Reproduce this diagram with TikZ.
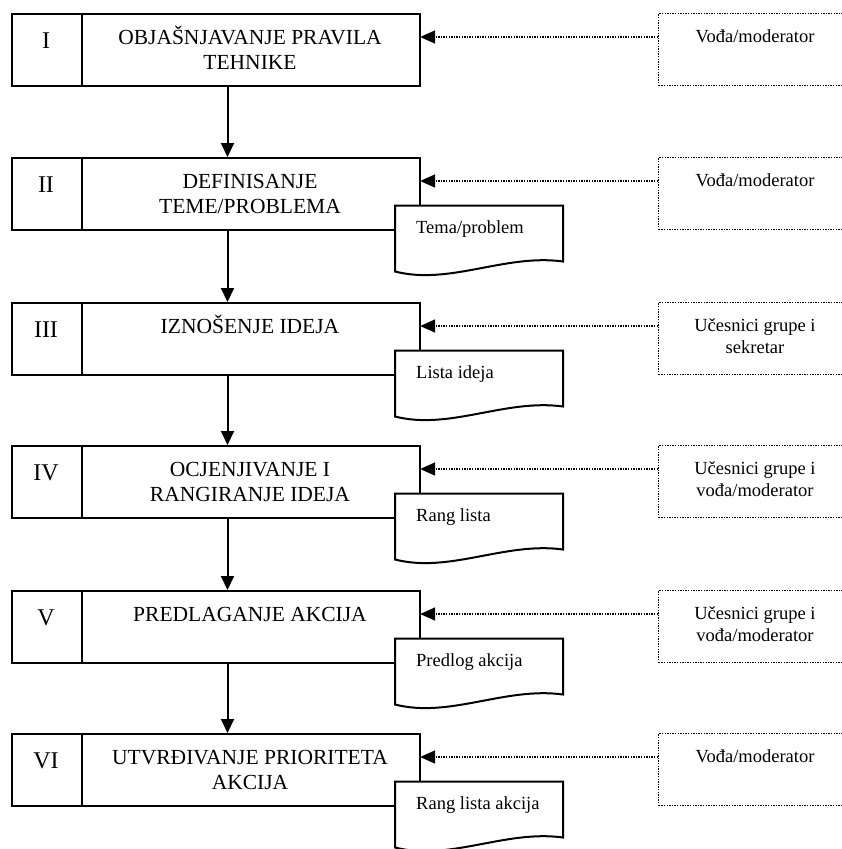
\documentclass[tikz,border=0pt]{standalone}
\usepackage{fontspec}
\setmainfont{Liberation Serif}
\usetikzlibrary{arrows.meta}
\newcommand{\mainstrut}{\rule{0pt}{20pt}}
\newcommand{\rolestrut}{\rule{0pt}{16pt}}
\tikzset{
  stepbox/.style={draw, line width=2.2pt, fill=white, inner sep=0pt, anchor=north west, minimum height=72pt},
  numcell/.style={stepbox, minimum width=69.5pt},
  maincell/.style={stepbox, minimum width=338.5pt},
  rolebox/.style={draw, line width=1.4pt, dash pattern=on 1.4pt off 1.2pt, inner sep=0pt, anchor=north west, minimum width=212pt, minimum height=72pt},
  numtext/.style={font=\fontsize{24}{28}\selectfont, anchor=base, inner sep=0pt},
  maintext/.style={font=\fontsize{21.5}{25}\selectfont, align=center, anchor=north, inner sep=0pt},
  roletext/.style={font=\fontsize{18.5}{22}\selectfont, align=center, anchor=north, inner sep=0pt},
  doctext/.style={font=\fontsize{18.5}{22}\selectfont, anchor=base west, inner sep=0pt},
  docshape/.style={draw, line width=2pt, fill=white, line join=miter},
  rolearrow/.style={line width=1.4pt, dash pattern=on 1.4pt off 1.2pt, -{Triangle[length=15pt,width=13pt]}},
  flowarrow/.style={line width=2pt, -{Triangle[length=14pt,width=13pt]}}
}
\newcommand{\stage}[5]{%
  \node[numcell] (n#1) at (11,#2) {};
  \node[maincell] (m#1) at (80.5,#2) {};
  \node[numtext] (nt#1) at (46,#2+35) {#3};
  \node[maintext] (mt#1) at (250,#2+11) {\mainstrut #4};
  \node[rolebox] (r#1) at (658,#2) {};
  \node[roletext] (rt#1) at (755,#2+13) {\rolestrut #5};
  \coordinate (a#1) at (420.1,#2+24);
  \draw[rolearrow] (r#1.west |- a#1) -- (a#1);
}
\newcommand{\docbox}[3]{%
  \draw[docshape] (395,#2+48.5) -- (563,#2+48.5) -- (563,#2+104.5)
    .. controls (505,#2+96.5) and (450,#2+128.5) .. (395,#2+114.5) -- cycle;
  \node[doctext] (dt#1) at (416,#2+76.5) {#3};
}
\begin{document}
\begin{tikzpicture}[x=1pt,y=-1pt]
  \useasboundingbox (0,0) rectangle (842,849);
  \clip (0,0) rectangle (842,849);
  \stage{1}{13}{I}{OBJAŠNJAVANJE PRAVILA\\TEHNIKE}{Vođa/moderator}
  \stage{2}{157}{II}{DEFINISANJE\\TEME/PROBLEMA}{Vođa/moderator}
  \stage{3}{302}{III}{IZNOŠENJE IDEJA}{Učesnici grupe i\\sekretar}
  \stage{4}{445}{IV}{OCJENJIVANJE I\\RANGIRANJE IDEJA}{Učesnici grupe i\\vođa/moderator}
  \stage{5}{590}{V}{PREDLAGANJE AKCIJA}{Učesnici grupe i\\vođa/moderator}
  \stage{6}{733}{VI}{UTVRĐIVANJE PRIORITETA\\AKCIJA}{Vođa/moderator}
  \docbox{2}{157}{Tema/problem}
  \docbox{3}{302}{Lista ideja}
  \docbox{4}{445}{Rang lista}
  \docbox{5}{590}{Predlog akcija}
  \docbox{6}{733}{Rang lista akcija}
  \draw[flowarrow] (227.5,0 |- m1.south) -- (227.5,0 |- m2.north);
  \draw[flowarrow] (227.5,0 |- m2.south) -- (227.5,0 |- m3.north);
  \draw[flowarrow] (227.5,0 |- m3.south) -- (227.5,0 |- m4.north);
  \draw[flowarrow] (227.5,0 |- m4.south) -- (227.5,0 |- m5.north);
  \draw[flowarrow] (227.5,0 |- m5.south) -- (227.5,0 |- m6.north);
\end{tikzpicture}
\end{document}
